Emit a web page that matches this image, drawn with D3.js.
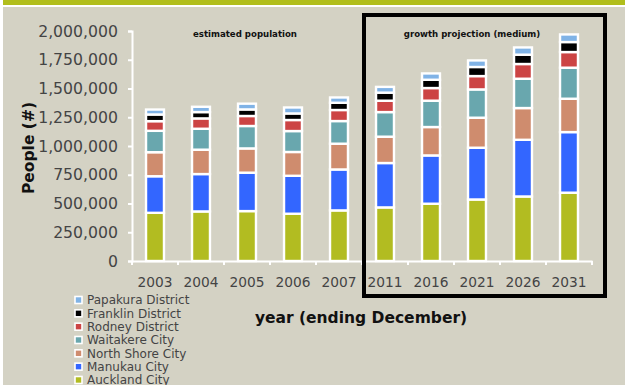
<!DOCTYPE html>
<html>
<head>
<meta charset="utf-8">
<script src="https://cdn.jsdelivr.net/npm/d3@7"></script>
<style>
  body { margin: 0; background: #d4d2c4; }
  svg { display: block; font-family: 'DejaVu Sans', Verdana, sans-serif; }
</style>
</head>
<body>
<svg id="chart" width="625" height="385"></svg>
<script>
// Auckland region population by territorial authority (people)
const years = ['2003', '2004', '2005', '2006', '2007', '2011', '2016', '2021', '2026', '2031'];
const areas = ['Auckland City', 'Manukau City', 'North Shore City', 'Waitakere City',
               'Rodney District', 'Franklin District', 'Papakura District'];
const colors = ['#b2bc21', '#3366ff', '#cf8c6e', '#69a7ae', '#cc4444', '#000000', '#80b3e6'];

const aucklandCity = [419000, 431000, 434000, 411000, 440000, 466000, 498000, 535000, 561000, 594000];
const manukauCity = [318000, 325000, 334000, 330000, 356000, 386000, 420000, 450000, 493000, 527000];
const northShoreCity = [209000, 212000, 211000, 207000, 224000, 229000, 247000, 261000, 276000, 290000];
const waitakereCity = [186000, 182000, 195000, 182000, 197000, 214000, 229000, 246000, 255000, 270000];
const rodneyDistrict = [84000, 90000, 87000, 96000, 96000, 99000, 110000, 116000, 128000, 136000];
const franklinDistrict = [58000, 55000, 57000, 57000, 63000, 70000, 72000, 79000, 81000, 87000];
const papakuraDistrict = [43000, 46000, 50000, 52000, 46000, 50000, 55000, 57000, 63000, 66000];

const yTicks = [0, 250000, 500000, 750000, 1000000, 1250000, 1500000, 1750000, 2000000];

const series = [aucklandCity, manukauCity, northShoreCity, waitakereCity,
                rodneyDistrict, franklinDistrict, papakuraDistrict];

// build rows for the stack
const rows = years.map((yr, i) => {
    const row = { year: yr };
    areas.forEach((a, k) => { row[a] = series[k][i]; });
    return row;
});
const stacked = d3.stack().keys(areas)(rows);

const svg = d3.select('#chart');

// frame + top band
svg.append('rect').attr('width', 625).attr('height', 385).attr('fill', '#d4d2c4');
svg.append('rect').attr('width', 625).attr('height', 7).attr('fill', '#ffffff');
svg.append('rect').attr('width', 625).attr('height', 5).attr('fill', '#b1be1c');
svg.append('rect').attr('width', 3).attr('height', 385).attr('fill', '#ffffff');

const x = d3.scaleBand().domain(years).range([132, 592]);
const y = d3.scaleLinear().domain([0, 2000000]).range([261, 31]);
const barW = x.bandwidth() * 0.39;

// bars
const layers = svg.append('g').selectAll('g')
    .data(stacked)
    .join('g')
    .attr('fill', (d, i) => colors[i]);

layers.selectAll('rect')
    .data(d => d)
    .join('rect')
    .attr('x', d => x(d.data.year) + (x.bandwidth() - barW) / 2)
    .attr('y', d => y(d[1]))
    .attr('width', barW)
    .attr('height', d => y(d[0]) - y(d[1]))
    .attr('stroke', '#ffffff')
    .attr('stroke-width', 2.4);

// y axis
const yAxis = svg.append('g')
    .attr('transform', 'translate(132,0)')
    .call(d3.axisLeft(y).tickValues(yTicks).tickSize(4).tickPadding(10).tickFormat(d3.format(',')));
yAxis.selectAll('path, line').attr('stroke', '#ffffff').attr('stroke-width', 2);
yAxis.selectAll('text').attr('fill', '#444').style('font-size', '15.7px')
    .style('font-family', "'DejaVu Sans', Verdana, sans-serif");

// x axis
const xAxis = svg.append('g')
    .attr('transform', 'translate(0,261)')
    .call(d3.axisBottom(x).tickSize(0).tickSizeOuter(0).tickPadding(16));
xAxis.select('path').attr('stroke', '#ffffff').attr('stroke-width', 2);
xAxis.selectAll('text').attr('fill', '#444').style('font-size', '13.75px')
    .style('font-family', "'DejaVu Sans', Verdana, sans-serif");
xAxis.selectAll('line.sep')
    .data(years.map(d => x(d)).concat([x.range()[1]]))
    .join('line')
    .attr('class', 'sep')
    .attr('x1', d => d).attr('x2', d => d)
    .attr('y1', 0).attr('y2', 4)
    .attr('stroke', '#ffffff').attr('stroke-width', 2);

// axis titles
svg.append('text')
    .attr('transform', 'translate(34,148) rotate(-90)')
    .attr('text-anchor', 'middle')
    .attr('font-weight', 'bold')
    .attr('font-size', 15.5)
    .attr('fill', '#111')
    .text('People (#)');

svg.append('text')
    .attr('x', 361).attr('y', 323)
    .attr('text-anchor', 'middle')
    .attr('font-weight', 'bold')
    .attr('font-size', 15.5)
    .attr('fill', '#111')
    .text('year (ending December)');

// section titles
svg.append('text')
    .attr('x', 245).attr('y', 36.5)
    .attr('text-anchor', 'middle')
    .attr('font-weight', 'bold')
    .attr('font-size', 8.6)
    .attr('fill', '#111')
    .text('estimated population');

svg.append('text')
    .attr('x', 472).attr('y', 36.5)
    .attr('text-anchor', 'middle')
    .attr('font-weight', 'bold')
    .attr('font-size', 8.6)
    .attr('fill', '#111')
    .text('growth projection (medium)');

// projection box
svg.append('rect')
    .attr('x', 364).attr('y', 15)
    .attr('width', 241).attr('height', 281)
    .attr('fill', 'none')
    .attr('stroke', '#000')
    .attr('stroke-width', 4);

// legend
const legendItems = areas.map((a, i) => ({ name: a, color: colors[i] })).reverse();
const legend = svg.append('g').selectAll('g')
    .data(legendItems)
    .join('g')
    .attr('transform', (d, i) => `translate(75,${300 + i * 13.33})`);

legend.append('rect')
    .attr('x', 0).attr('y', -3.5)
    .attr('width', 7).attr('height', 7)
    .attr('fill', d => d.color)
    .attr('stroke', '#ffffff')
    .attr('stroke-width', 1.6);

legend.append('text')
    .attr('x', 12).attr('y', 0)
    .attr('dy', '0.36em')
    .attr('font-size', 12)
    .attr('fill', '#444')
    .text(d => d.name);
</script>
</body>
</html>
